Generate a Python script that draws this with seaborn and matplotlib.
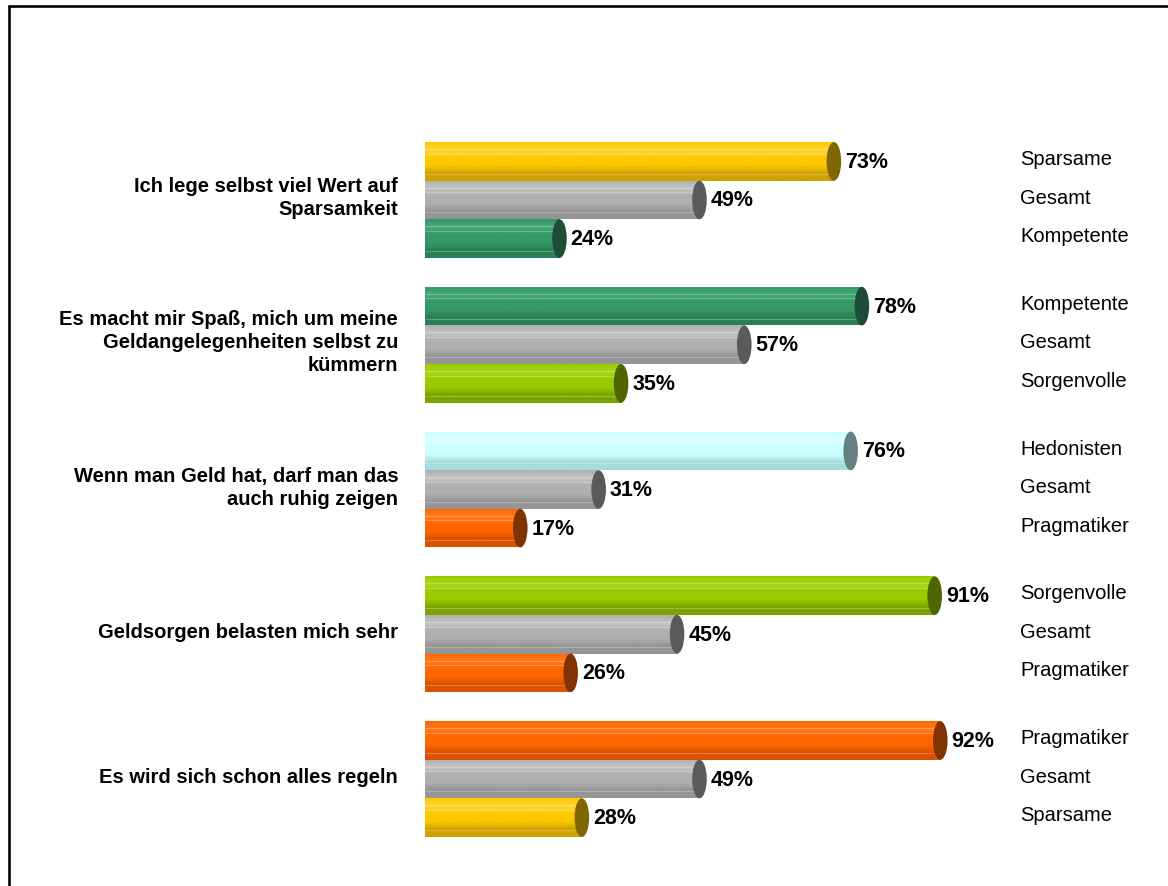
import numpy as np
import pandas as pd
import matplotlib
matplotlib.use("Agg")
import matplotlib.pyplot as plt
from matplotlib.patches import Ellipse
from matplotlib.lines import Line2D
from matplotlib.colors import LinearSegmentedColormap
import seaborn as sns

# --------------------------------------------------
# data
# --------------------------------------------------
questions = [
    "Ich lege selbst viel Wert auf\nSparsamkeit",
    "Es macht mir Spaß, mich um meine\nGeldangelegenheiten selbst zu\nkümmern",
    "Wenn man Geld hat, darf man das\nauch ruhig zeigen",
    "Geldsorgen belasten mich sehr",
    "Es wird sich schon alles regeln",
]
top_groups = ["Sparsame", "Kompetente", "Hedonisten", "Sorgenvolle", "Pragmatiker"]
top_values = [73, 78, 76, 91, 92]
total_groups = ["Gesamt"] * 5
total_values = [49, 57, 31, 45, 49]
bottom_groups = ["Kompetente", "Sorgenvolle", "Pragmatiker", "Pragmatiker", "Sparsame"]
bottom_values = [24, 35, 17, 26, 28]

# top light, body, bottom dark, end cap
group_colors = {
    "Sparsame":    ("#ffd633", "#fcc800", "#cfa200", "#806600"),
    "Gesamt":      ("#c4c4c4", "#b0b0b0", "#959595", "#5a5a5a"),
    "Kompetente":  ("#46a877", "#339966", "#2a8055", "#1e4d35"),
    "Sorgenvolle": ("#a8d61a", "#99cc00", "#7aa300", "#4d6600"),
    "Hedonisten":  ("#d9ffff", "#ccffff", "#a8dcdc", "#668080"),
    "Pragmatiker": ("#ff7a1f", "#ff6600", "#d95200", "#803300"),
}

slots = ["oben", "Gesamt", "unten"]
rows = []
for i, q in enumerate(questions):
    rows.append({"question": q, "slot": "oben", "group": top_groups[i], "value": top_values[i]})
    rows.append({"question": q, "slot": "Gesamt", "group": total_groups[i], "value": total_values[i]})
    rows.append({"question": q, "slot": "unten", "group": bottom_groups[i], "value": bottom_values[i]})
df = pd.DataFrame(rows)

sns.set_style("white")
plt.rcParams["font.family"] = ["Liberation Sans", "DejaVu Sans"]
plt.rcParams["text.color"] = "black"

fig = plt.figure(figsize=(11.68, 8.87), dpi=100)
ax = fig.add_axes([0.3639, 0.039, 0.4795, 0.816])

sns.barplot(data=df, x="value", y="question", hue="slot", hue_order=slots,
            orient="h", dodge=True, width=0.8, legend=False, ax=ax,
            palette=["#cccccc"] * 3, saturation=1)

ax.set_xlim(0, 100)
ax.set_ylim(4.5, -0.5)

for container, slot in zip(ax.containers, slots):
    sub = df[df["slot"] == slot].reset_index(drop=True)
    for bar, (_, r) in zip(container, sub.iterrows()):
        light, body, dark, cap = group_colors[r["group"]]
        x, y = bar.get_x(), bar.get_y()
        w, h = bar.get_width(), bar.get_height()
        cmap = LinearSegmentedColormap.from_list(
            "cyl", [body, light, body, body, dark, dark])
        grad = np.linspace(0, 1, 64).reshape(-1, 1)
        bar.set_facecolor("none")
        bar.set_edgecolor("none")
        im = ax.imshow(grad, extent=(x, x + w, y, y + h), origin="lower",
                       cmap=cmap, aspect="auto", zorder=2, interpolation="bilinear")
        im.set_clip_path(bar)
        # thin light streaks
        for f in (0.18, 0.3, 0.82):
            ax.plot([x, x + w], [y + f * h, y + f * h], color="white",
                    alpha=0.25, lw=0.8, zorder=2.5, solid_capstyle="butt")
        ax.add_patch(Ellipse((x + w, y + h / 2), width=2.6, height=h,
                             facecolor=cap, edgecolor="none", zorder=3))
        ax.text(x + w + 2.0, y + h / 2, f"{int(r['value'])}%", ha="left",
                va="center", fontsize=15.5, fontweight="bold", zorder=4)
        ax.text(106.3, y + h / 2 - 0.02, r["group"], ha="left", va="center",
                fontsize=14.5, clip_on=False)

# question labels at the left
for i, q in enumerate(questions):
    ax.text(-4.8, i - 0.02, q, ha="right", va="center", multialignment="right",
            fontsize=14.5, fontweight="bold", linespacing=1.26, clip_on=False)

ax.set_xlim(0, 100)
ax.set_ylim(4.5, -0.5)
ax.set_xlabel("")
ax.set_ylabel("")
ax.set_xticks([])
ax.set_yticks([])
sns.despine(ax=ax, left=True, bottom=True)

# frame around the chart area
fig.add_artist(Line2D([9 / 1168, 9 / 1168], [0, 1 - 7 / 887], color="black", lw=1.9))
fig.add_artist(Line2D([9 / 1168, 1], [1 - 7 / 887, 1 - 7 / 887], color="black", lw=1.9))

fig.savefig("out.png", dpi=100)
